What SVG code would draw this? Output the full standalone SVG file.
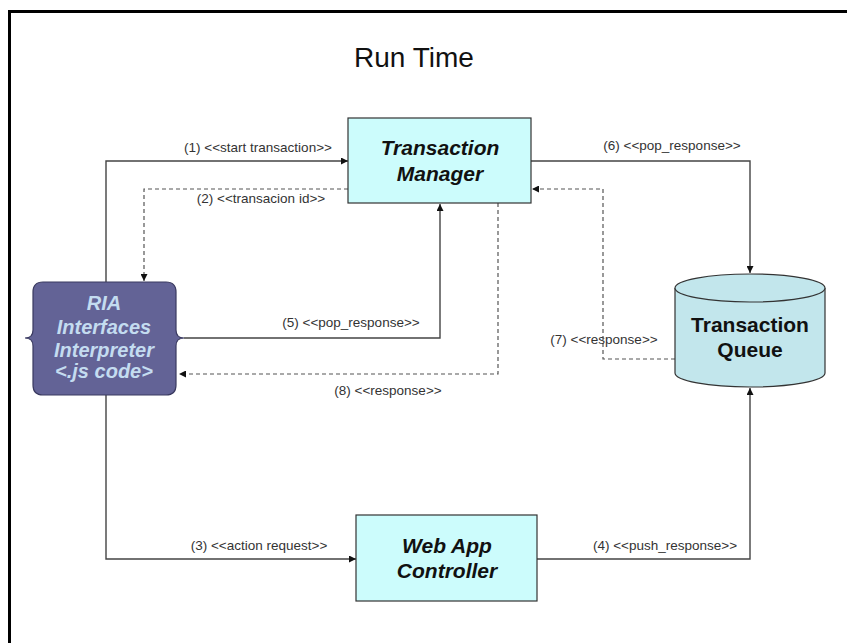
<svg xmlns="http://www.w3.org/2000/svg" width="847" height="643" viewBox="0 0 847 643">
  <style>
    .title { font-family: "Liberation Sans", Arial, sans-serif; font-size: 28px; fill: #111; text-anchor: middle; }
    .box { fill: #ccfcfc; stroke: #333; stroke-width: 1.2; }
    .boxtext { font-family: "Liberation Sans", Arial, sans-serif; font-size: 21px; font-weight: bold; font-style: italic; fill: #111; text-anchor: middle; }
    .ria { fill: #636396; stroke: #3a3a60; stroke-width: 1.2; }
    .riatext { font-family: "Liberation Sans", Arial, sans-serif; font-size: 20px; font-weight: bold; font-style: italic; fill: #c4dcf0; text-anchor: middle; }
    .queue { fill: #c2e6ec; stroke: #333; stroke-width: 1.2; }
    .queuetext { font-family: "Liberation Sans", Arial, sans-serif; font-size: 21px; font-weight: bold; fill: #111; text-anchor: middle; }
    .solid { fill: none; stroke: #444; stroke-width: 1.4; }
    .dashed { fill: none; stroke: #555; stroke-width: 1.2; stroke-dasharray: 4 3; }
    .label { font-family: "Liberation Sans", Arial, sans-serif; font-size: 13.5px; fill: #333; text-anchor: middle; }
  </style>
  <defs>
    <marker id="arrow" viewBox="0 0 10 10" refX="10" refY="5" markerWidth="8" markerHeight="7" markerUnits="userSpaceOnUse" orient="auto">
      <path d="M0,0 L10,5 L0,10 Z" fill="#111"/>
    </marker>
  </defs>

  <rect width="847" height="643" fill="#ffffff"/>
  <!-- page frame -->
  <rect x="9.5" y="11.5" width="860" height="660" fill="none" stroke="#000" stroke-width="3"/>

  <text class="title" x="414" y="67">Run Time</text>

  <g id="connectors">
    <!-- (1) start transaction -->
    <polyline class="solid" points="106,282 106,161 348,161" marker-end="url(#arrow)"/>
    <!-- (2) transaction id -->
    <polyline class="dashed" points="348,189 144,189 144,281" marker-end="url(#arrow)"/>
    <!-- (3) action request -->
    <polyline class="solid" points="106,395 106,559 356,559" marker-end="url(#arrow)"/>
    <!-- (4) push_response -->
    <polyline class="solid" points="537,559 750,559 750,388" marker-end="url(#arrow)"/>
    <!-- (5) pop_response from interpreter -->
    <polyline class="solid" points="184,338 440,338 440,204" marker-end="url(#arrow)"/>
    <!-- (6) pop_response to queue -->
    <polyline class="solid" points="531,161 750,161 750,273" marker-end="url(#arrow)"/>
    <!-- (7) response from queue -->
    <polyline class="dashed" points="675,359 603,359 603,189 532,189" marker-end="url(#arrow)"/>
    <!-- (8) response to interpreter -->
    <polyline class="dashed" points="498,203 498,374 179,374" marker-end="url(#arrow)"/>

    <text class="label" x="258" y="152">(1) &lt;&lt;start transaction&gt;&gt;</text>
    <text class="label" x="261" y="203">(2) &lt;&lt;transacion id&gt;&gt;</text>
    <text class="label" x="259" y="550">(3) &lt;&lt;action request&gt;&gt;</text>
    <text class="label" x="665" y="550">(4) &lt;&lt;push_response&gt;&gt;</text>
    <text class="label" x="351" y="327">(5) &lt;&lt;pop_response&gt;&gt;</text>
    <text class="label" x="672" y="150">(6) &lt;&lt;pop_response&gt;&gt;</text>
    <text class="label" x="604" y="344">(7) &lt;&lt;response&gt;&gt;</text>
    <text class="label" x="388" y="395">(8) &lt;&lt;response&gt;&gt;</text>
  </g>

  <g id="transaction-manager">
    <rect class="box" x="348" y="118" width="183" height="85"/>
    <text class="boxtext" x="440" y="155">Transaction</text>
    <text class="boxtext" x="440" y="181">Manager</text>
  </g>

  <g id="web-app-controller">
    <rect class="box" x="356" y="515" width="181" height="86"/>
    <text class="boxtext" x="447" y="553">Web App</text>
    <text class="boxtext" x="447" y="578">Controller</text>
  </g>

  <g id="ria-interpreter">
    <path class="ria" d="M43,282 H166 Q176,282 176,292 V330 Q176,338 184,338 Q176,338 176,346 V385 Q176,395 166,395 H43 Q33,395 33,385 V346 Q33,338 25,338 Q33,338 33,330 V292 Q33,282 43,282 Z"/>
    <text class="riatext" x="104" y="310">RIA</text>
    <text class="riatext" x="104" y="334">Interfaces</text>
    <text class="riatext" x="104" y="357">Interpreter</text>
    <text class="riatext" x="104" y="378">&lt;.js code&gt;</text>
  </g>

  <g id="transaction-queue">
    <path class="queue" d="M675,288 V373 A75,14 0 0 0 825,373 V288"/>
    <ellipse class="queue" cx="750" cy="288" rx="75" ry="14"/>
    <text class="queuetext" x="750" y="332">Transaction</text>
    <text class="queuetext" x="750" y="357">Queue</text>
  </g>
</svg>
